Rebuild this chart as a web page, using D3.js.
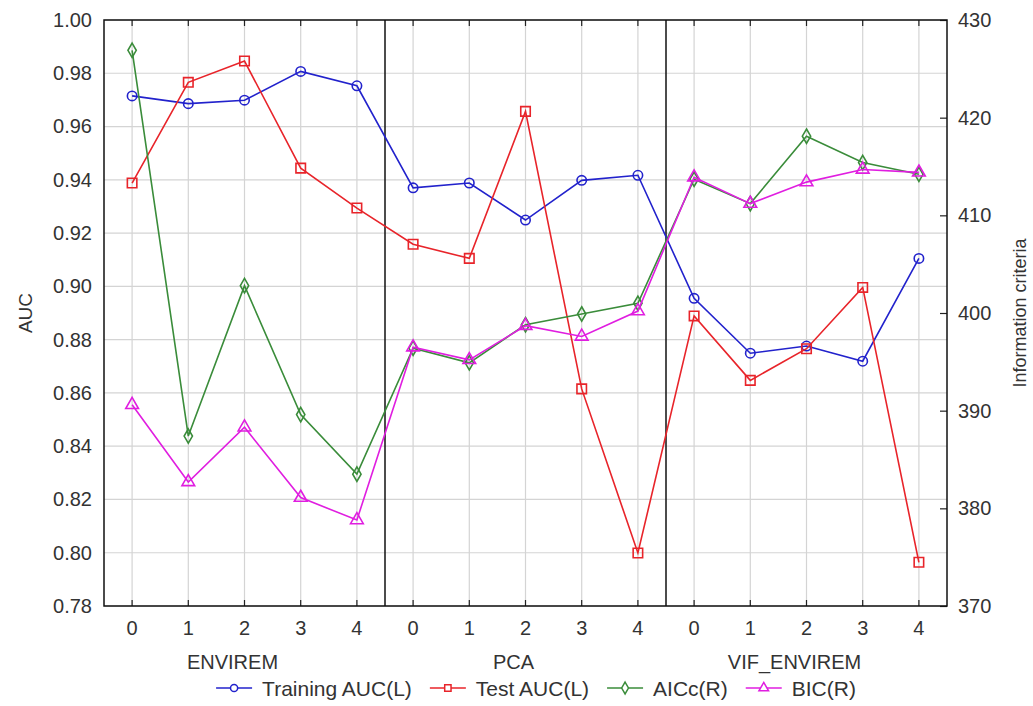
<!DOCTYPE html>
<html>
<head>
<meta charset="utf-8">
<script src="https://cdn.jsdelivr.net/npm/d3@7"></script>
<style>
  html, body { margin: 0; padding: 0; background: #fff; }
  svg { display: block; font-family: "Liberation Sans", Arial, sans-serif; }
</style>
</head>
<body>
<svg id="chart" width="1033" height="706"></svg>
<script>
// ---- data ----
const groups = ["ENVIREM", "PCA", "VIF_ENVIREM"];
const steps = ["0", "1", "2", "3", "4"];
const trainingAUC = [0.9715, 0.9686, 0.9699, 0.9807, 0.9753,
                     0.9370, 0.9388, 0.9249, 0.9398, 0.9417,
                     0.8955, 0.8749, 0.8776, 0.8719, 0.9105];
const testAUC = [0.9388, 0.9766, 0.9846, 0.9444, 0.9294,
                 0.9158, 0.9105, 0.9657, 0.8615, 0.7999,
                 0.8889, 0.8647, 0.8766, 0.8996, 0.7964];
const aicc = [426.9, 387.4, 402.8, 389.6, 383.5,
              396.4, 394.9, 398.8, 399.9, 401.0,
              413.7, 411.2, 418.1, 415.4, 414.2];
const bic = [390.6, 382.7, 388.3, 381.1, 378.8,
             396.5, 395.2, 398.7, 397.6, 400.2,
             413.9, 411.2, 413.4, 414.7, 414.4];
const leftTicks = [0.78, 0.80, 0.82, 0.84, 0.86, 0.88, 0.90, 0.92, 0.94, 0.96, 0.98, 1.00];
const rightTicks = [370, 380, 390, 400, 410, 420, 430];
const seriesNames = ["Training AUC(L)", "Test AUC(L)", "AICc(R)", "BIC(R)"];

// ---- layout ----
const L = 104, R = 947, T = 20, B = 606;
const svg = d3.select("#chart");
const cats = d3.range(groups.length * steps.length);
const x = d3.scaleBand().domain(cats).range([L, R]);
const cx = i => x(i) + x.bandwidth() / 2;
const yL = d3.scaleLinear().domain([0.78, 1.00]).range([B, T]);
const yR = d3.scaleLinear().domain([370, 430]).range([B, T]);
const txt = "#333";
const fs = 20;

// grid
const grid = svg.append("g");
grid.selectAll("line.h").data(leftTicks).join("line")
  .attr("x1", L).attr("x2", R)
  .attr("y1", d => yL(d)).attr("y2", d => yL(d))
  .attr("stroke", "#d4d4d4").attr("stroke-width", 1.2);
grid.selectAll("line.v").data(cats).join("line")
  .attr("x1", d => cx(d)).attr("x2", d => cx(d))
  .attr("y1", T).attr("y2", B)
  .attr("stroke", "#d4d4d4").attr("stroke-width", 1.2);

// left axis labels
const axL = svg.append("g").attr("transform", `translate(${L},0)`)
  .call(d3.axisLeft(yL).tickValues(leftTicks).tickFormat(d3.format(".2f")).tickSize(0).tickPadding(12));
axL.select(".domain").remove();
axL.selectAll("text").attr("font-size", fs).attr("fill", txt).attr("font-family", "Liberation Sans, Arial, sans-serif");

// right axis
const axR = svg.append("g").attr("transform", `translate(${R},0)`)
  .call(d3.axisRight(yR).tickValues(rightTicks).tickFormat(d3.format("d")).tickSize(-7).tickPadding(11));
axR.select(".domain").remove();
axR.selectAll("line").attr("stroke", "#222").attr("stroke-width", 1.2);
axR.selectAll("text").attr("font-size", fs).attr("fill", txt).attr("font-family", "Liberation Sans, Arial, sans-serif");

// bottom axis
const axB = svg.append("g").attr("transform", `translate(0,${B})`)
  .call(d3.axisBottom(x).tickFormat(i => steps[i % steps.length]).tickSize(-6).tickPadding(15));
axB.select(".domain").remove();
axB.selectAll("line").attr("stroke", "#222").attr("stroke-width", 1.2);
axB.selectAll("text").attr("font-size", fs).attr("fill", txt).attr("font-family", "Liberation Sans, Arial, sans-serif");

// top ticks
const axT = svg.append("g").attr("transform", `translate(0,${T})`)
  .call(d3.axisTop(x).tickFormat("").tickSize(-6));
axT.select(".domain").remove();
axT.selectAll("line").attr("stroke", "#222").attr("stroke-width", 1.2);

// group labels
svg.selectAll("text.grp").data(groups).join("text")
  .attr("class", "grp")
  .attr("x", (d, g) => cx(g * steps.length + 2) - 12)
  .attr("y", 669)
  .attr("text-anchor", "middle")
  .attr("font-size", fs).attr("fill", txt)
  .text(d => d);

// group separators
svg.selectAll("line.sep").data(d3.range(1, groups.length)).join("line")
  .attr("x1", g => x(g * steps.length)).attr("x2", g => x(g * steps.length))
  .attr("y1", T).attr("y2", B)
  .attr("stroke", "#111").attr("stroke-width", 1.5);

// frame
svg.append("rect").attr("x", L).attr("y", T).attr("width", R - L).attr("height", B - T)
  .attr("fill", "none").attr("stroke", "#111").attr("stroke-width", 1.5);

// axis titles
svg.append("text")
  .attr("transform", `translate(32,${(T + B) / 2}) rotate(-90)`)
  .attr("text-anchor", "middle").attr("font-size", 19).attr("fill", txt)
  .text("AUC");
svg.append("text")
  .attr("transform", `translate(1026,${(T + B) / 2}) rotate(-90)`)
  .attr("text-anchor", "middle").attr("font-size", 18).attr("fill", txt)
  .text("Information criteria");

// marker shapes
const symType = { circle: d3.symbolCircle, square: d3.symbolSquare, diamond: d3.symbolDiamond, triangle: d3.symbolTriangle };
const symSize = { circle: 70, square: 90, diamond: 60, triangle: 70 };
const series = [
  { name: seriesNames[0], values: trainingAUC, y: yL, color: "#2222cc", shape: "circle" },
  { name: seriesNames[1], values: testAUC, y: yL, color: "#e8242a", shape: "square" },
  { name: seriesNames[2], values: aicc, y: yR, color: "#3a8c3a", shape: "diamond" },
  { name: seriesNames[3], values: bic, y: yR, color: "#e01ee0", shape: "triangle" }
];

series.forEach(s => {
  const line = d3.line().x((d, i) => cx(i)).y(d => s.y(d));
  svg.append("path").datum(s.values)
    .attr("d", line).attr("fill", "none")
    .attr("stroke", s.color).attr("stroke-width", 1.6);
  svg.append("g").selectAll("path").data(s.values).join("path")
    .attr("transform", (d, i) => `translate(${cx(i)},${s.y(d)})`)
    .attr("d", d3.symbol().type(symType[s.shape]).size(symSize[s.shape])())
    .attr("fill", "none").attr("stroke", s.color).attr("stroke-width", 1.6);
});

// legend
const leg = svg.append("g");
let lx = 0;
const lineLen = 36, gapText = 10, gapItem = 18, lfs = 21;
series.forEach(s => {
  const g = leg.append("g");
  g.append("line").attr("x1", 0).attr("x2", lineLen).attr("y1", 0).attr("y2", 0)
    .attr("stroke", s.color).attr("stroke-width", 1.6);
  g.append("path").attr("transform", `translate(${lineLen / 2},0)`)
    .attr("d", d3.symbol().type(symType[s.shape]).size(40)())
    .attr("fill", "#fff").attr("stroke", s.color).attr("stroke-width", 1.5);
  const t = g.append("text").attr("x", lineLen + gapText).attr("y", 7.5)
    .attr("font-size", lfs).attr("fill", txt).text(s.name);
  const w = lineLen + gapText + t.node().getComputedTextLength();
  g.attr("transform", `translate(${lx},0)`);
  lx += w + gapItem;
});
const total = lx - gapItem;
leg.attr("transform", `translate(${536 - total / 2},688)`);
</script>
</body>
</html>
